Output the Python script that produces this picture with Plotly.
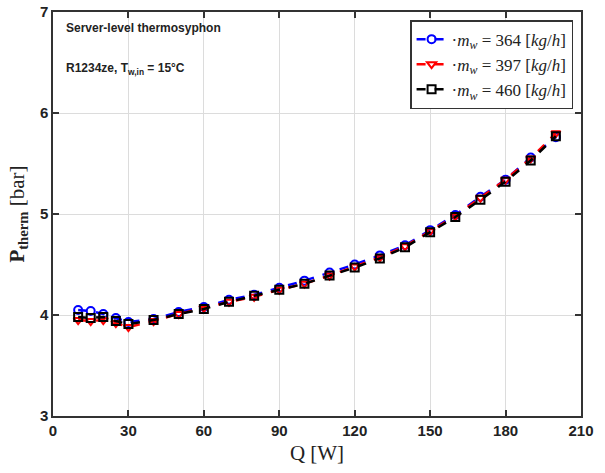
import plotly.graph_objects as go

Q = [10, 15, 20, 25, 30, 40, 50, 60, 70, 80, 90, 100, 110, 120, 130, 140, 150, 160, 170, 180, 190, 200]
P_364 = [4.05, 4.04, 4.01, 3.97, 3.93, 3.96, 4.03, 4.08, 4.15, 4.20, 4.27, 4.34, 4.42, 4.50, 4.59, 4.69, 4.84, 4.99, 5.17, 5.34, 5.56, 5.76]
P_397 = [3.95, 3.94, 3.95, 3.92, 3.88, 3.94, 4.01, 4.07, 4.13, 4.18, 4.25, 4.31, 4.39, 4.48, 4.57, 4.68, 4.83, 4.98, 5.16, 5.34, 5.55, 5.80]
P_460 = [3.98, 3.97, 3.98, 3.94, 3.91, 3.95, 4.01, 4.06, 4.13, 4.19, 4.25, 4.31, 4.39, 4.47, 4.56, 4.67, 4.82, 4.97, 5.14, 5.32, 5.53, 5.77]
x_ticks = [0, 30, 60, 90, 120, 150, 180, 210]
y_ticks = [3, 4, 5, 6, 7]

series = [
    (P_364, "364", "blue", "circle-open"),
    (P_397, "397", "red", "triangle-down-open"),
    (P_460, "460", "black", "square-open"),
]

fig = go.Figure()
for vals, m, col, sym in series:
    fig.add_trace(go.Scatter(
        x=Q, y=vals, mode="lines+markers",
        name=f"·<i>m</i><sub><i>w</i></sub> = {m} [<i>kg</i>/<i>h</i>]",
        line=dict(color=col, width=2.5, dash="dash"),
        marker=dict(symbol=sym, size=8, color=col, line=dict(width=2, color=col)),
    ))

axis_common = dict(
    showline=True, linecolor="#333", linewidth=1.5, mirror="allticks",
    ticks="inside", ticklen=6, tickcolor="#333", tickwidth=1.5,
    showgrid=True, gridcolor="#dcdcdc", gridwidth=1, zeroline=False,
    automargin=False,
    tickfont=dict(family="Liberation Sans, Arial", size=15, color="#222", weight="bold"),
)

fig.update_layout(
    width=605, height=473,
    margin=dict(l=53, r=24, t=12, b=57),
    paper_bgcolor="white", plot_bgcolor="white",
    xaxis=dict(range=[0, 210], tickvals=x_ticks, **axis_common,
               title=dict(text="Q [W]", font=dict(family="Liberation Serif", size=21, color="#222"), standoff=8)),
    yaxis=dict(range=[3, 7], tickvals=y_ticks, **axis_common,
               title=dict(text="<b>P</b><sub><b>therm</b></sub> [bar]", font=dict(family="Liberation Serif", size=21, color="#222"), standoff=10)),
    legend=dict(x=0.985, y=0.98, xanchor="right", yanchor="top",
                bgcolor="white", bordercolor="#333", borderwidth=1.5,
                font=dict(family="Liberation Serif", size=17, color="#222"),
                itemwidth=30, tracegroupgap=0),
    showlegend=True,
    annotations=[
        dict(text="<b>Server-level thermosyphon</b>", x=0.02, y=0.96, xref="paper", yref="paper",
             xanchor="left", yanchor="middle", showarrow=False,
             font=dict(family="Liberation Sans, Arial", size=12, color="#222")),
        dict(text="<b>R1234ze, T<sub>w,in</sub> = 15°C</b>", x=0.02, y=0.86, xref="paper", yref="paper",
             xanchor="left", yanchor="middle", showarrow=False,
             font=dict(family="Liberation Sans, Arial", size=12, color="#222")),
    ],
)

fig.write_html("out.html")
